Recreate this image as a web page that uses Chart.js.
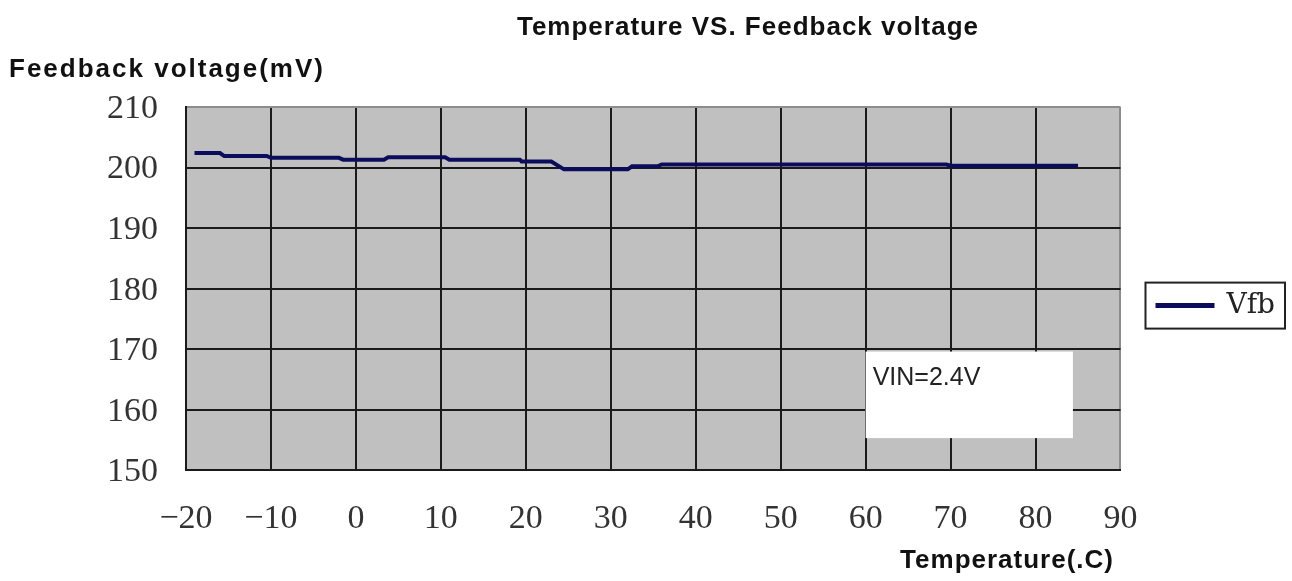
<!DOCTYPE html>
<html>
<head>
<meta charset="utf-8">
<title>Temperature VS. Feedback voltage</title>
<script src="https://cdn.jsdelivr.net/npm/chart.js@4.4.1/dist/chart.umd.min.js"></script>
<style>
  html, body { margin: 0; padding: 0; background: #fff; }
  canvas { display: block; }
</style>
</head>
<body>
<canvas id="vfbChart" width="1292" height="581"></canvas>
<script>
// temperature (.C) where the trace steps
const temps = [-19, -16, -15.5, -10.5, -10, -2, -1.5, 3.3, 3.8, 10.5, 11, 19.3, 19.5, 23, 24.5, 32, 32.5, 35.5, 36, 69.5, 70, 85]
// feedback voltage (mV)
const vfb = [202.4, 202.4, 201.9, 201.9, 201.6, 201.6, 201.3, 201.3, 201.7, 201.7, 201.3, 201.3, 201.0, 201.0, 199.7, 199.7, 200.2, 200.2, 200.5, 200.5, 200.3, 200.3]
const xTicks = [-20, -10, 0, 10, 20, 30, 40, 50, 60, 70, 80, 90]
const yTicks = [150, 160, 170, 180, 190, 200, 210]

const navy = '#0c0c5c'
const gridDark = '#1a1a1a'
const gridEdge = '#8c8c8c'
const tickFont = { family: '"Liberation Serif"', size: 34 }

// note box corners in data units
const note = { x0: 60, x1: 84.4, y0: 169.6, y1: 155.3, text: 'VIN=2.4V' }

const chartDecor = {
  id: 'chartDecor',
  beforeDraw(chart) {
    const { ctx, chartArea: a } = chart
    ctx.save()
    ctx.fillStyle = '#fff'
    ctx.fillRect(0, 0, chart.width, chart.height)
    ctx.fillStyle = '#c0c0c0'
    ctx.fillRect(a.left, a.top, a.right - a.left, a.bottom - a.top)
    ctx.restore()
  },
  afterDatasetsDraw(chart) {
    const { ctx, scales: { x, y } } = chart
    const l = x.getPixelForValue(note.x0), r = x.getPixelForValue(note.x1)
    const t = y.getPixelForValue(note.y0), b = y.getPixelForValue(note.y1)
    ctx.save()
    ctx.fillStyle = '#fff'
    ctx.fillRect(l, t, r - l, b - t)
    ctx.fillStyle = '#222'
    ctx.font = '25px "Liberation Sans"'
    ctx.textBaseline = 'middle'
    ctx.fillText(note.text, l + 7, t + 27)
    ctx.restore()
  },
  afterDraw(chart) {
    const { ctx } = chart
    ctx.save()
    // frame round the legend
    const hb = chart.legend.legendHitBoxes[0]
    if (hb) {
      const cy = hb.top + hb.height / 2
      ctx.strokeStyle = '#222'
      ctx.lineWidth = 2
      ctx.strokeRect(hb.left - 12, cy - 23, hb.width + 22, 46)
    }
    // captions
    ctx.fillStyle = '#111'
    ctx.font = 'bold 26px "Liberation Sans"'
    ctx.letterSpacing = '1px'
    ctx.textBaseline = 'middle'
    ctx.textAlign = 'center'
    ctx.fillText('Temperature VS. Feedback voltage', 748, 28)
    ctx.letterSpacing = '2px'
    ctx.textAlign = 'left'
    ctx.fillText('Feedback voltage(mV)', 9, 70)
    ctx.letterSpacing = '1px'
    ctx.textAlign = 'right'
    ctx.fillText('Temperature(.C)', 1114, 561)
    ctx.restore()
  }
}

const ctx = document.getElementById('vfbChart').getContext('2d')
new Chart(ctx, {
  type: 'line',
  data: {
    datasets: [
      {
        label: 'Vfb',
        data: temps.map((t, i) => ({ x: t, y: vfb[i] })),
        borderColor: navy,
        backgroundColor: navy,
        borderWidth: 4,
        pointRadius: 0,
        tension: 0,
      },
    ],
  },
  options: {
    responsive: false,
    animation: false,
    layout: { padding: { top: 107, left: 79, bottom: 14, right: 7 } },
    plugins: {
      title: { display: false },
      tooltip: { enabled: false },
      legend: {
        position: 'right',
        fullSize: false,
        title: { display: true, text: '', font: { size: 10 }, padding: { top: 0, bottom: 22 } },
        labels: {
          boxWidth: 55,
          boxHeight: 1,
          padding: 37,
          color: '#222',
          font: { family: '"DejaVu Serif"', size: 28 },
        },
      },
    },
    scales: {
      x: {
        type: 'linear',
        min: -20,
        max: 90,
        afterBuildTicks: (s) => { s.ticks = xTicks.map((v) => ({ value: v })) },
        grid: {
          drawTicks: false,
          lineWidth: 2,
          color: (c) => (c.tick && c.tick.value === 90 ? gridEdge : gridDark),
        },
        border: { color: gridDark, width: 2 },
        ticks: {
          padding: 28,
          color: '#333',
          font: tickFont,
          callback: (v) => String(v).replace('-', '\u2212'),
        },
      },
      y: {
        min: 150,
        max: 210,
        afterBuildTicks: (s) => { s.ticks = yTicks.map((v) => ({ value: v })) },
        grid: {
          drawTicks: false,
          lineWidth: 2,
          color: (c) => (c.tick && c.tick.value === 210 ? gridEdge : gridDark),
        },
        border: { color: gridDark, width: 2 },
        ticks: {
          padding: 28,
          labelOffset: 2,
          color: '#333',
          font: tickFont,
        },
      },
    },
  },
  plugins: [chartDecor],
})
</script>
</body>
</html>
